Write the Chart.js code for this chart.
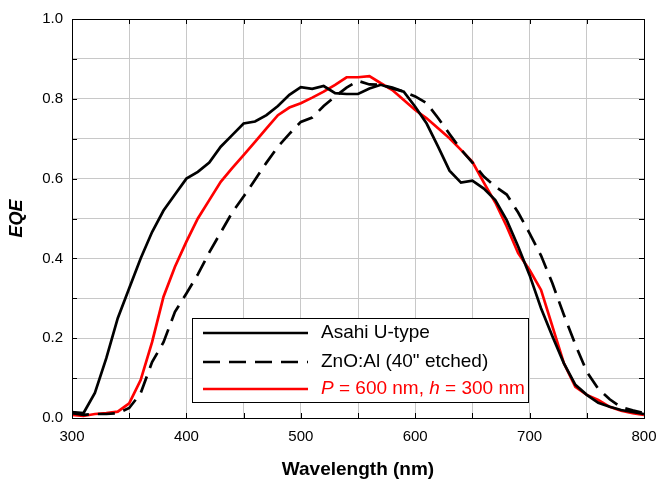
<!DOCTYPE html>
<html>
<head>
<meta charset="utf-8">
<script src="https://cdn.jsdelivr.net/npm/chart.js@4.4.1/dist/chart.umd.min.js"></script>
<style>
  html, body { margin: 0; padding: 0; background: #fff; }
  #wrap { width: 658px; height: 481px; }
</style>
</head>
<body>
<div id="wrap"><canvas id="eqeChart" width="658" height="481"></canvas></div>
<script>
// wavelength grid (nm), 10 nm steps
const wavelengths = [];
for (let w = 300; w <= 800; w += 10) wavelengths.push(w);

const asahi = [
  0.015, 0.012, 0.063, 0.15, 0.25, 0.325, 0.40, 0.466, 0.52, 0.56,
  0.60, 0.617, 0.64, 0.68, 0.709, 0.738, 0.743, 0.759, 0.782, 0.81,
  0.829, 0.825, 0.832, 0.814, 0.812, 0.812, 0.826, 0.835, 0.826, 0.818,
  0.78, 0.738, 0.68, 0.62, 0.59, 0.595, 0.575, 0.546, 0.496, 0.43,
  0.358, 0.275, 0.204, 0.137, 0.083, 0.058, 0.038, 0.028, 0.02, 0.015,
  0.01
];

const znoAl = [
  0.012, 0.008, 0.01, 0.01, 0.012, 0.025, 0.062, 0.14, 0.19, 0.266,
  0.312, 0.36, 0.415, 0.465, 0.515, 0.555, 0.597, 0.64, 0.68, 0.712,
  0.742, 0.753, 0.782, 0.806, 0.828, 0.845, 0.836, 0.835, 0.828, 0.818,
  0.806, 0.789, 0.752, 0.712, 0.673, 0.64, 0.605, 0.58, 0.56, 0.515,
  0.463, 0.407, 0.337, 0.258, 0.184, 0.116, 0.073, 0.047, 0.027, 0.019,
  0.012
];

const grating = [
  0.008, 0.005, 0.01, 0.012, 0.016, 0.037, 0.095, 0.19, 0.304, 0.379,
  0.442, 0.50, 0.546, 0.592, 0.626, 0.659, 0.692, 0.726, 0.759, 0.778,
  0.789, 0.803, 0.818, 0.835, 0.854, 0.854, 0.857, 0.839, 0.822, 0.797,
  0.772, 0.751, 0.726, 0.701, 0.672, 0.642, 0.59, 0.54, 0.48, 0.413,
  0.371, 0.321, 0.229, 0.137, 0.078, 0.058, 0.045, 0.028, 0.018, 0.012,
  0.008
];

const seriesNames = ['Asahi U-type', 'ZnO:Al (40" etched)', 'P = 600 nm, h = 300 nm'];
const xTicks = [300, 400, 500, 600, 700, 800];
const yTicks = [0.0, 0.2, 0.4, 0.6, 0.8, 1.0];

const FONT = 'Arial, "Liberation Sans", sans-serif';

function toPoints(vals) {
  return wavelengths.map((w, i) => ({ x: w, y: vals[i] }));
}

// frame with inward tick marks on all four sides
const framePlugin = {
  id: 'frame',
  afterDatasetsDraw(chart) {
    const { ctx, chartArea: a, scales } = chart;
    ctx.save();
    ctx.strokeStyle = '#000';
    ctx.lineWidth = 1;
    ctx.beginPath();
    for (let v = 350; v < 800; v += 50) {
      const px = Math.round(scales.x.getPixelForValue(v)) + 0.5;
      ctx.moveTo(px, a.top); ctx.lineTo(px, a.top + 5);
      ctx.moveTo(px, a.bottom); ctx.lineTo(px, a.bottom - 5);
    }
    for (let k = 1; k < 10; k++) {
      const py = Math.round(scales.y.getPixelForValue(k / 10)) + 0.5;
      ctx.moveTo(a.left, py); ctx.lineTo(a.left + 5, py);
      ctx.moveTo(a.right, py); ctx.lineTo(a.right - 5, py);
    }
    ctx.stroke();
    ctx.strokeRect(Math.round(a.left) + 0.5, Math.round(a.top) + 0.5,
      Math.round(a.right - a.left), Math.round(a.bottom - a.top));
    ctx.restore();
  }
};

// legend box drawn by hand because of the italic letters in the red label
const legendPlugin = {
  id: 'boxLegend',
  afterDraw(chart) {
    const { ctx, chartArea: a } = chart;
    const bx = a.left + 120, by = a.top + 299, bw = 336, bh = 84;
    ctx.save();
    ctx.fillStyle = '#fff';
    ctx.fillRect(bx, by, bw, bh);
    ctx.strokeStyle = '#000';
    ctx.lineWidth = 1;
    ctx.strokeRect(bx + 0.5, by + 0.5, bw, bh);

    const rows = [15, 44, 71];
    chart.data.datasets.forEach((ds, i) => {
      const y = by + rows[i];
      ctx.beginPath();
      ctx.strokeStyle = ds.borderColor;
      ctx.lineWidth = ds.borderWidth;
      ctx.setLineDash(ds.borderDash || []);
      ctx.moveTo(bx + 11, y);
      ctx.lineTo(bx + 116, y);
      ctx.stroke();
      ctx.setLineDash([]);
    });

    ctx.textBaseline = 'middle';
    ctx.textAlign = 'left';
    const tx = bx + 129;
    ctx.fillStyle = '#000';
    ctx.font = '19px ' + FONT;
    ctx.fillText(seriesNames[0], tx, by + rows[0]);
    ctx.fillText(seriesNames[1], tx, by + rows[1]);

    // "P = 600 nm, h = 300 nm" with italic P and h
    const parts = [
      ['P', true], [' = 600 nm, ', false], ['h', true], [' = 300 nm', false]
    ];
    let x = tx;
    ctx.fillStyle = '#ff0000';
    parts.forEach(([t, it]) => {
      ctx.font = (it ? 'italic ' : '') + '19px ' + FONT;
      ctx.fillText(t, x, by + rows[2]);
      x += ctx.measureText(t).width;
    });
    ctx.restore();
  }
};

new Chart(document.getElementById('eqeChart'), {
  type: 'line',
  data: {
    datasets: [
      { label: seriesNames[0], data: toPoints(asahi), borderColor: '#000000',
        borderWidth: 2.7, pointRadius: 0, tension: 0, fill: false },
      { label: seriesNames[1], data: toPoints(znoAl), borderColor: '#000000',
        borderWidth: 2.7, borderDash: [17, 9], pointRadius: 0, tension: 0, fill: false },
      { label: seriesNames[2], data: toPoints(grating), borderColor: '#ff0000',
        borderWidth: 2.7, pointRadius: 0, tension: 0, fill: false }
    ]
  },
  options: {
    responsive: false,
    animation: false,
    devicePixelRatio: 1,
    layout: { padding: { top: 19, right: 14, left: 0, bottom: 0 } },
    plugins: {
      legend: { display: false },
      tooltip: { enabled: false }
    },
    scales: {
      x: {
        type: 'linear',
        min: 300, max: 800,
        afterFit: s => { s.height = 63; s.paddingLeft = 0; s.paddingRight = 0; },
        afterBuildTicks: s => {
          const t = [];
          for (let v = 300; v <= 800; v += 50) t.push({ value: v });
          s.ticks = t;
        },
        grid: { color: '#c8c8c8', lineWidth: 1, drawTicks: false },
        border: { display: false },
        ticks: {
          padding: 10,
          color: '#000',
          font: { family: FONT, size: 15 },
          maxRotation: 0,
          autoSkip: false,
          callback: v => (xTicks.includes(v) ? String(v) : '')
        },
        title: {
          display: true, text: 'Wavelength (nm)', color: '#000',
          font: { family: FONT, size: 19, weight: 'bold' },
          padding: { top: 4, bottom: 0 }
        }
      },
      y: {
        min: 0, max: 1,
        afterFit: s => { s.width = 72; s.paddingTop = 0; s.paddingBottom = 0; },
        afterBuildTicks: s => {
          const t = [];
          for (let k = 0; k <= 10; k++) t.push({ value: k / 10 });
          s.ticks = t;
        },
        grid: { color: '#c8c8c8', lineWidth: 1, drawTicks: false },
        border: { display: false },
        ticks: {
          padding: 9,
          color: '#000',
          font: { family: FONT, size: 15 },
          autoSkip: false,
          callback: v => {
            const k = Math.round(v * 10);
            return k % 2 === 0 ? (k / 10).toFixed(1) : '';
          }
        },
        title: {
          display: true, text: 'EQE', color: '#000',
          font: { family: FONT, size: 18, weight: 'bold', style: 'italic' },
          padding: { top: 6, bottom: 0 }
        }
      }
    }
  },
  plugins: [framePlugin, legendPlugin]
});
</script>
</body>
</html>
